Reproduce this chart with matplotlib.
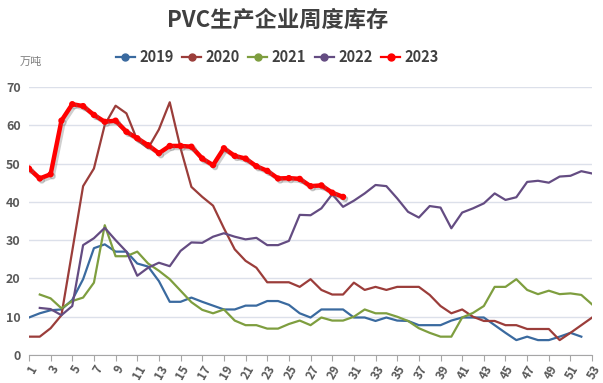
import numpy as np
import matplotlib
matplotlib.use('Agg')
import matplotlib.pyplot as plt
import matplotlib.patheffects as pe
from matplotlib.lines import Line2D

plt.rcParams['font.family'] = ['Noto Sans CJK SC', 'DejaVu Sans']

nan = np.nan
weeks = list(range(1, 54))

y2019 = [9.8, 10.9, 11.7, 11.9, 14.4, 19.8, 27.9, 28.9, 27.0, 27.0,
         23.9, 23.1, 19.3, 13.9, 13.9, 15.0, 13.9, 12.9, 11.9, 11.9,
         12.9, 12.9, 14.1, 14.1, 13.1, 10.9, 9.8, 11.9, 11.9, 11.9,
         9.8, 9.8, 8.9, 9.8, 9.0, 8.9, 7.8, 7.8, 7.8, 9.0,
         9.8, 9.8, 9.8, 7.8, 5.8, 3.9, 4.8, 3.9, 3.9, 4.8,
         5.8, 4.8, nan]
y2020 = [4.8, 4.8, 7.0, 10.4, 27.2, 44.1, 48.7, 60.1, 65.1, 63.1,
         56.1, 54.0, 58.9, 66.0, 54.0, 43.9, 41.3, 39.0, 33.1, 27.6,
         24.6, 22.8, 19.0, 19.0, 19.0, 17.8, 19.8, 17.0, 15.8, 15.8,
         18.9, 17.0, 17.8, 17.0, 17.8, 17.8, 17.8, 15.7, 12.8, 10.9,
         11.9, 10.0, 8.9, 8.9, 7.8, 7.8, 6.8, 6.8, 6.8, 3.9,
         5.8, 7.8, 9.8]
y2021 = [nan, 15.8, 14.8, 12.2, 14.1, 15.0, 18.9, 33.9, 25.8, 25.8,
         27.0, 23.9, 22.0, 19.8, 16.8, 13.8, 11.8, 10.9, 11.9, 9.0,
         7.8, 7.8, 6.9, 6.9, 8.1, 9.0, 7.8, 9.8, 9.0, 9.0,
         10.0, 11.9, 10.9, 10.9, 10.0, 8.9, 7.0, 5.8, 4.8, 4.8,
         9.8, 11.0, 12.8, 17.8, 17.8, 19.8, 17.0, 15.9, 16.8, 15.9,
         16.1, 15.7, 13.2]
y2022 = [nan, 12.3, 12.0, 10.4, 12.8, 28.7, 30.5, 33.2, 30.0, 27.0,
         20.7, 22.8, 24.1, 23.2, 27.2, 29.4, 29.3, 30.9, 31.8, 30.9,
         30.2, 30.6, 28.7, 28.7, 29.8, 36.6, 36.5, 38.3, 42.0, 38.7,
         40.3, 42.2, 44.4, 44.1, 40.9, 37.4, 35.9, 38.9, 38.5, 33.1,
         37.2, 38.3, 39.6, 42.2, 40.5, 41.2, 45.2, 45.5, 45.0, 46.6,
         46.8, 48.0, 47.4]
y2023 = [48.7, 46.1, 47.2, 61.2, 65.5, 65.0, 62.7, 60.9, 61.2, 58.3,
         56.6, 54.8, 52.7, 54.6, 54.6, 54.4, 51.3, 49.6, 54.0, 52.0,
         51.3, 49.3, 48.1, 46.1, 46.2, 46.0, 44.1, 44.3, 42.4, 41.3]

series = [('2019', y2019, '#3A6A9F'),
          ('2020', y2020, '#9B3D3A'),
          ('2021', y2021, '#7E9E3F'),
          ('2022', y2022, '#644C82'),
          ('2023', y2023, '#FF0000')]

fig = plt.figure(figsize=(6.03, 3.83), dpi=100)
ax = fig.add_axes([0.048, 0.073, 0.934, 0.700])

for name, vals, col in series:
    x = weeks[:len(vals)]
    if name == '2023':
        ax.plot(x, vals, color=col, lw=3.2, marker='o', ms=3.5, zorder=5,
                path_effects=[pe.SimpleLineShadow(offset=(1.5, -1.5), shadow_color='#777777', alpha=0.35),
                              pe.Normal()])
    else:
        ax.plot(x, vals, color=col, lw=1.6, zorder=3)

ax.set_xlim(1, 53)
ax.set_ylim(0, 70)
ax.set_yticks(range(0, 71, 10))
ax.set_xticks(range(1, 54, 2))
ax.grid(axis='y', color='#DCE0EA', lw=1)
ax.set_axisbelow(True)
for s in ['top', 'right', 'left']:
    ax.spines[s].set_visible(False)
ax.spines['bottom'].set_color('#A6A6A6')
ax.tick_params(axis='y', length=0, labelsize=9, labelcolor='#595959', pad=6)
ax.tick_params(axis='x', length=4, color='#A6A6A6', labelsize=8.5, labelcolor='#595959', pad=2)
for lab in ax.get_xticklabels() + ax.get_yticklabels():
    lab.set_fontweight('bold')
for lab in ax.get_xticklabels():
    lab.set_rotation(60)
    lab.set_ha('right')
    lab.set_va('top')
    lab.set_rotation_mode('anchor')

fig.text(0.46, 0.946, 'PVC生产企业周度库存', ha='center', va='center',
         fontsize=16, fontweight='bold', color='#404040')
fig.text(0.033, 0.838, '万吨', ha='left', va='center', fontsize=8, color='#7F7F7F')

handles = [Line2D([0], [0], color=col, lw=1.6, marker='o', ms=5)
           for n, v, col in series]
leg = fig.legend(handles, [n for n, v, c in series], loc='center', bbox_to_anchor=(0.46, 0.85),
                 ncol=5, frameon=False, handlelength=1.3, handletextpad=0.3,
                 columnspacing=0.6, prop={'weight': 'bold', 'size': 10.5})
for t in leg.get_texts():
    t.set_color('#404040')

fig.savefig('out.png', dpi=100)
